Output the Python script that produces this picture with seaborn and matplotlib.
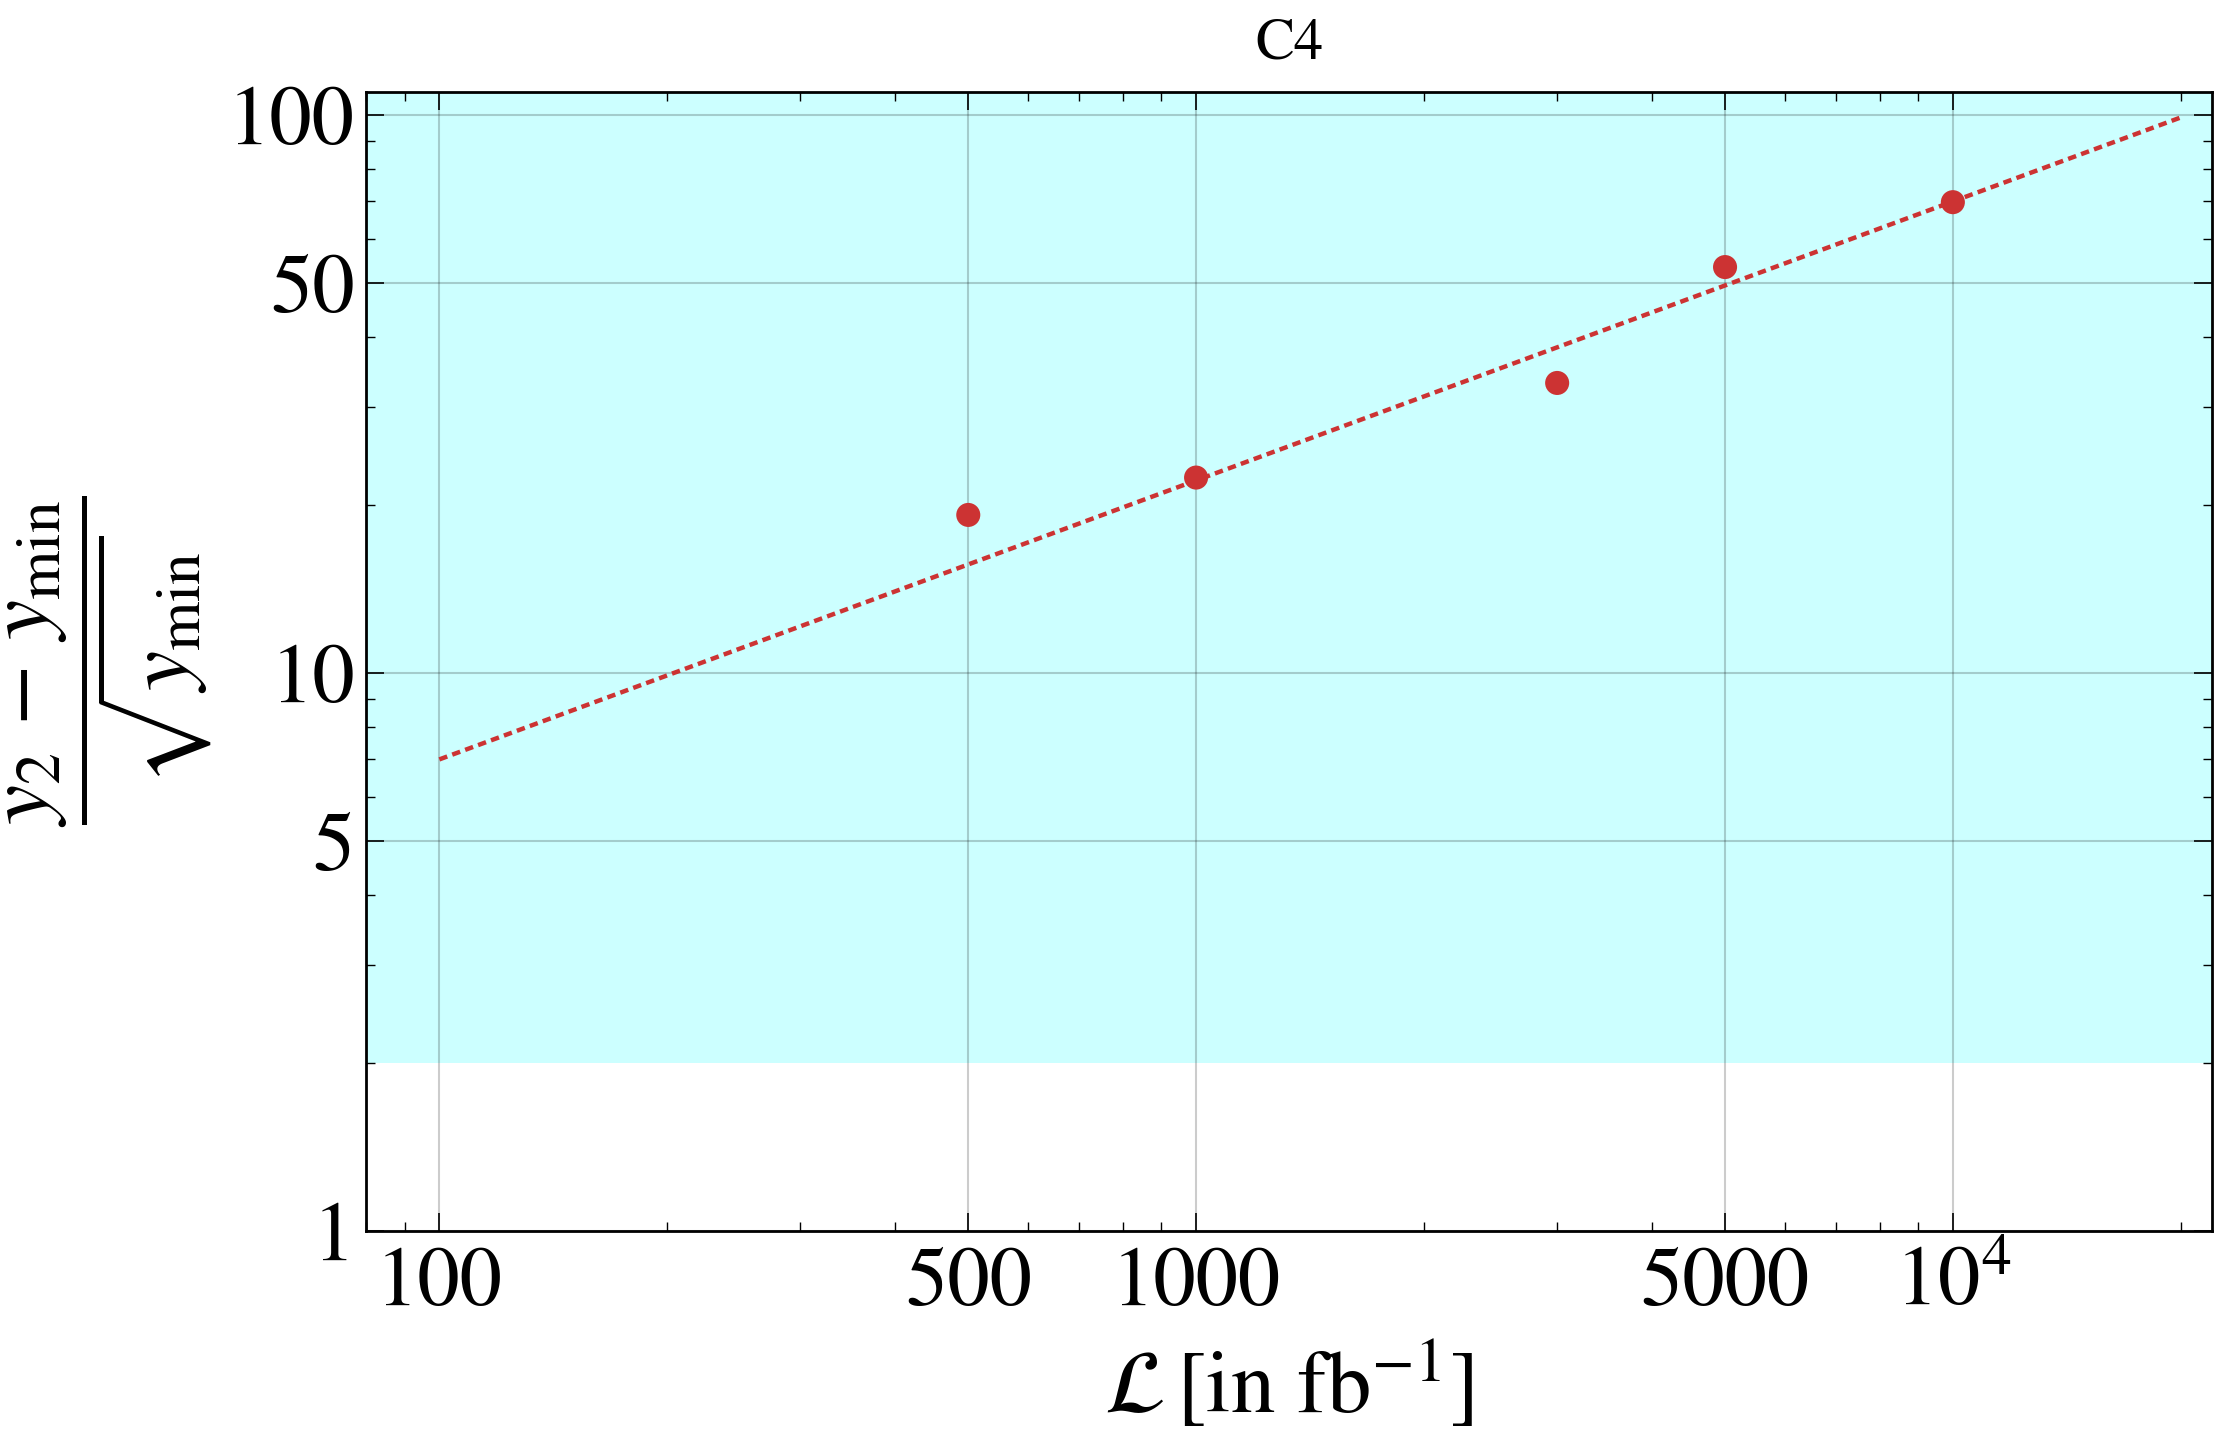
import numpy as np
import pandas as pd
import matplotlib
matplotlib.use("Agg")
import matplotlib.pyplot as plt
import matplotlib.ticker as mticker
import seaborn as sns

# 데이터
lumi = [500, 1000, 3000, 5000, 10000]
signif = [19.2, 22.4, 33.1, 53.4, 69.8]
fit_lumi = [100, 20000]
fit_signif = [7.0, 99.0]
band_low = 2.0

x_ticks = [100, 500, 1000, 5000, 10000]
x_ticklabels = ['100', '500', '1000', '5000', r'$10^{4}$']
y_ticks = [1, 5, 10, 50, 100]
y_ticklabels = ['1', '5', '10', '50', '100']

sns.set_theme(style="ticks")
plt.rcParams['font.family'] = ['STIXGeneral', 'DejaVu Sans']
plt.rcParams['mathtext.fontset'] = 'stix'
plt.rcParams['text.color'] = 'black'
plt.rcParams['axes.labelcolor'] = 'black'
plt.rcParams['xtick.color'] = 'black'
plt.rcParams['ytick.color'] = 'black'

red = '#CC3333'

fig = plt.figure(figsize=(22.22, 14.55), dpi=100)
ax = fig.add_axes([0.1647, 0.1540, 0.9955 - 0.1647, 0.9368 - 0.1540])
ax.set_xscale('log')
ax.set_yscale('log')
ax.set_xlim(80, 22000)
ax.set_ylim(1, 110)

# 청록색 영역
ax.axhspan(band_low, 1000, color='#CCFFFF', lw=0, zorder=0)

df_pts = pd.DataFrame({'L': lumi, 'S': signif})
df_fit = pd.DataFrame({'L': fit_lumi, 'S': fit_signif})

sns.lineplot(data=df_fit, x='L', y='S', ax=ax, color=red, lw=3.2,
             dashes=False, zorder=3)
ax.lines[-1].set_dashes((1.9, 1.2))
ax.lines[-1].set_dash_capstyle('butt')
sns.scatterplot(data=df_pts, x='L', y='S', ax=ax, color=red, s=300,
                edgecolor='none', zorder=4)

ax.xaxis.set_major_locator(mticker.FixedLocator(x_ticks))
ax.xaxis.set_major_formatter(mticker.FixedFormatter(x_ticklabels))
ax.yaxis.set_major_locator(mticker.FixedLocator(y_ticks))
ax.yaxis.set_major_formatter(mticker.FixedFormatter(y_ticklabels))
ax.xaxis.set_minor_locator(mticker.LogLocator(base=10, subs=np.arange(2, 10)))
ax.yaxis.set_minor_locator(mticker.LogLocator(base=10, subs=np.arange(2, 10)))
ax.xaxis.set_minor_formatter(mticker.NullFormatter())
ax.yaxis.set_minor_formatter(mticker.NullFormatter())

ax.grid(True, which='major', color='black', alpha=0.2, lw=1.5, zorder=1)
ax.set_axisbelow(False)

ax.tick_params(which='both', direction='in', top=True, right=True,
               color='black', labelcolor='black', labelsize=61)
ax.tick_params(which='major', length=13, width=1.2)
ax.tick_params(which='minor', length=6.5, width=1.0)
ax.tick_params(axis='x', which='major', pad=12)
ax.tick_params(axis='y', which='major', pad=8)

for sp in ax.spines.values():
    sp.set_linewidth(2)
    sp.set_color('black')

ax.set_title('C4', fontsize=42, pad=24, color='black')
ax.set_xlabel(r'$\mathcal{L}\,[\mathrm{in\ fb}^{-1}]$', fontsize=64, labelpad=12)
ax.set_ylabel(r'$\dfrac{y_2\,-\,y_{\mathrm{min}}}{\sqrt{y_{\mathrm{min}}}}$', fontsize=65, labelpad=10)

fig.savefig('out.png', dpi=100)
